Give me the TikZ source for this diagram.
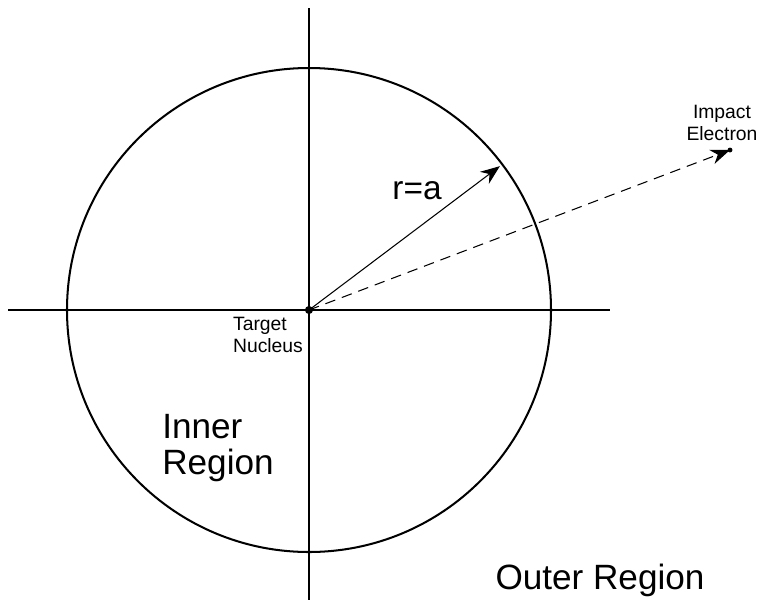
\documentclass[tikz,border=0pt]{standalone}
\usepackage{fontspec}
\setmainfont{Liberation Sans}
\usetikzlibrary{positioning,arrows.meta,calc}

\begin{document}
\begin{tikzpicture}[
  x=0.02cm, y=-0.02cm,
  axis/.style={line width=0.75pt},
  rim/.style={line width=1.15pt},
  arr/.style={-{Stealth[length=11pt,width=8.5pt]}, line width=0.6pt},
  lbl/.style={align=left, inner sep=0pt, font=\fontsize{11}{13}\selectfont},
  big/.style={align=left, inner sep=0pt, font=\fontsize{20}{20}\selectfont}
]
\useasboundingbox (0,0) rectangle (762,606);
\coordinate (O) at (309,310);
\draw[axis] (309,8) -- (309,600);
\draw[axis] (8,310) -- (610,310);
\draw[rim] (O) circle (242);
\node[circle, fill, inner sep=0pt, minimum size=4.6pt] (nuc) at (O) {};
\node[circle, fill, inner sep=0pt, minimum size=2.8pt] (elec) at (730,150) {};
\coordinate (rim) at ($(O)+(-37:239)$);
\draw[arr] (nuc.center) -- (rim);
\draw[arr, dashed, dash pattern=on 6pt off 4pt] (nuc.center) -- (elec.center);
\node[font=\fontsize{19}{22}\selectfont, inner sep=0pt] (ra) at (417,191) {r=a};
\node[lbl] (tgt) at (268,335) {Target\\Nucleus};
\node[lbl, align=center] (imp) at (722,123) {Impact\\Electron};
\node[big] (inner) at (218,448) {Inner\\Region};
\node[big] (outer) at (600,580) {Outer Region};
\end{tikzpicture}
\end{document}
